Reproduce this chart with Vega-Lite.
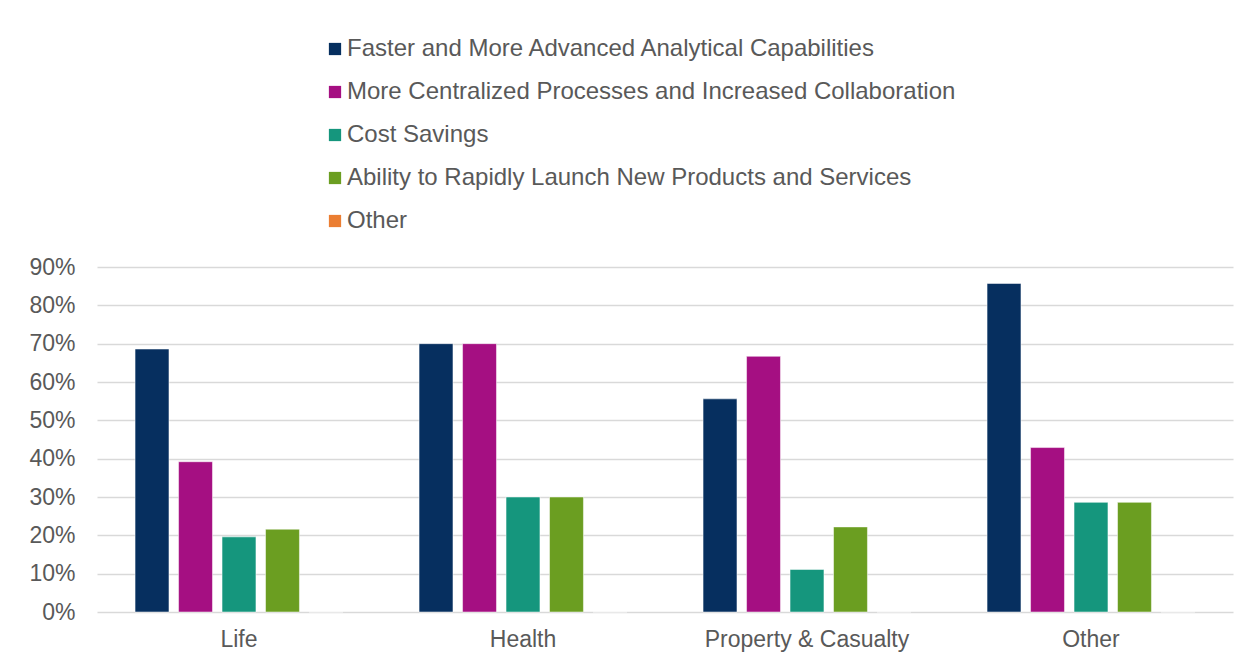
{
  "$schema": "https://vega.github.io/schema/vega-lite/v6.json",
  "autosize": "none",
  "width": 1136,
  "height": 345,
  "padding": {"left": 97, "top": 267, "right": 15, "bottom": 53},
  "background": "white",
  "config": {
    "font": "Liberation Sans",
    "view": {"stroke": null}
  },
  "data": {
    "values": [
      {"sector": "Life", "benefit": "Faster and More Advanced Analytical Capabilities", "share": 0.686},
      {"sector": "Life", "benefit": "More Centralized Processes and Increased Collaboration", "share": 0.392},
      {"sector": "Life", "benefit": "Cost Savings", "share": 0.196},
      {"sector": "Life", "benefit": "Ability to Rapidly Launch New Products and Services", "share": 0.216},
      {"sector": "Life", "benefit": "Other", "share": 0},
      {"sector": "Health", "benefit": "Faster and More Advanced Analytical Capabilities", "share": 0.70},
      {"sector": "Health", "benefit": "More Centralized Processes and Increased Collaboration", "share": 0.70},
      {"sector": "Health", "benefit": "Cost Savings", "share": 0.30},
      {"sector": "Health", "benefit": "Ability to Rapidly Launch New Products and Services", "share": 0.30},
      {"sector": "Health", "benefit": "Other", "share": 0},
      {"sector": "Property & Casualty", "benefit": "Faster and More Advanced Analytical Capabilities", "share": 0.556},
      {"sector": "Property & Casualty", "benefit": "More Centralized Processes and Increased Collaboration", "share": 0.667},
      {"sector": "Property & Casualty", "benefit": "Cost Savings", "share": 0.111},
      {"sector": "Property & Casualty", "benefit": "Ability to Rapidly Launch New Products and Services", "share": 0.222},
      {"sector": "Property & Casualty", "benefit": "Other", "share": 0},
      {"sector": "Other", "benefit": "Faster and More Advanced Analytical Capabilities", "share": 0.857},
      {"sector": "Other", "benefit": "More Centralized Processes and Increased Collaboration", "share": 0.429},
      {"sector": "Other", "benefit": "Cost Savings", "share": 0.286},
      {"sector": "Other", "benefit": "Ability to Rapidly Launch New Products and Services", "share": 0.286},
      {"sector": "Other", "benefit": "Other", "share": 0}
    ]
  },
  "mark": {"type": "bar", "stroke": "#ffffff", "strokeWidth": 0.5},
  "encoding": {
    "x": {
      "field": "sector",
      "type": "nominal",
      "sort": ["Life", "Health", "Property & Casualty", "Other"],
      "scale": {"paddingInner": 0.268, "paddingOuter": 0.134},
      "axis": {
        "title": null,
        "labelAngle": 0,
        "labelFontSize": 23,
        "labelColor": "#595959",
        "labelPadding": 16,
        "labelLimit": 400,
        "domain": false,
        "ticks": false
      }
    },
    "xOffset": {
      "field": "benefit",
      "type": "nominal",
      "sort": [
        "Faster and More Advanced Analytical Capabilities",
        "More Centralized Processes and Increased Collaboration",
        "Cost Savings",
        "Ability to Rapidly Launch New Products and Services",
        "Other"
      ],
      "scale": {"paddingInner": 0.22, "paddingOuter": 0}
    },
    "y": {
      "field": "share",
      "type": "quantitative",
      "scale": {"domain": [0, 0.9]},
      "axis": {
        "title": null,
        "format": ".0%",
        "values": [0, 0.1, 0.2, 0.3, 0.4, 0.5, 0.6, 0.7, 0.8, 0.9],
        "labelFontSize": 23,
        "labelColor": "#595959",
        "labelPadding": 22,
        "domain": false,
        "ticks": false,
        "gridColor": "#d9d9d9",
        "gridWidth": 1.5
      }
    },
    "color": {
      "field": "benefit",
      "type": "nominal",
      "scale": {
        "domain": [
          "Faster and More Advanced Analytical Capabilities",
          "More Centralized Processes and Increased Collaboration",
          "Cost Savings",
          "Ability to Rapidly Launch New Products and Services",
          "Other"
        ],
        "range": ["#062f5f", "#a50f82", "#15967d", "#6b9e21", "#eb7e32"]
      },
      "legend": {
        "title": null,
        "orient": "none",
        "legendX": 226,
        "legendY": -230,
        "direction": "vertical",
        "symbolType": "square",
        "symbolSize": 150,
        "symbolStrokeWidth": 0,
        "labelFontSize": 24,
        "labelColor": "#595959",
        "labelOffset": 0,
        "rowPadding": 19,
        "labelLimit": 800
      }
    }
  }
}
